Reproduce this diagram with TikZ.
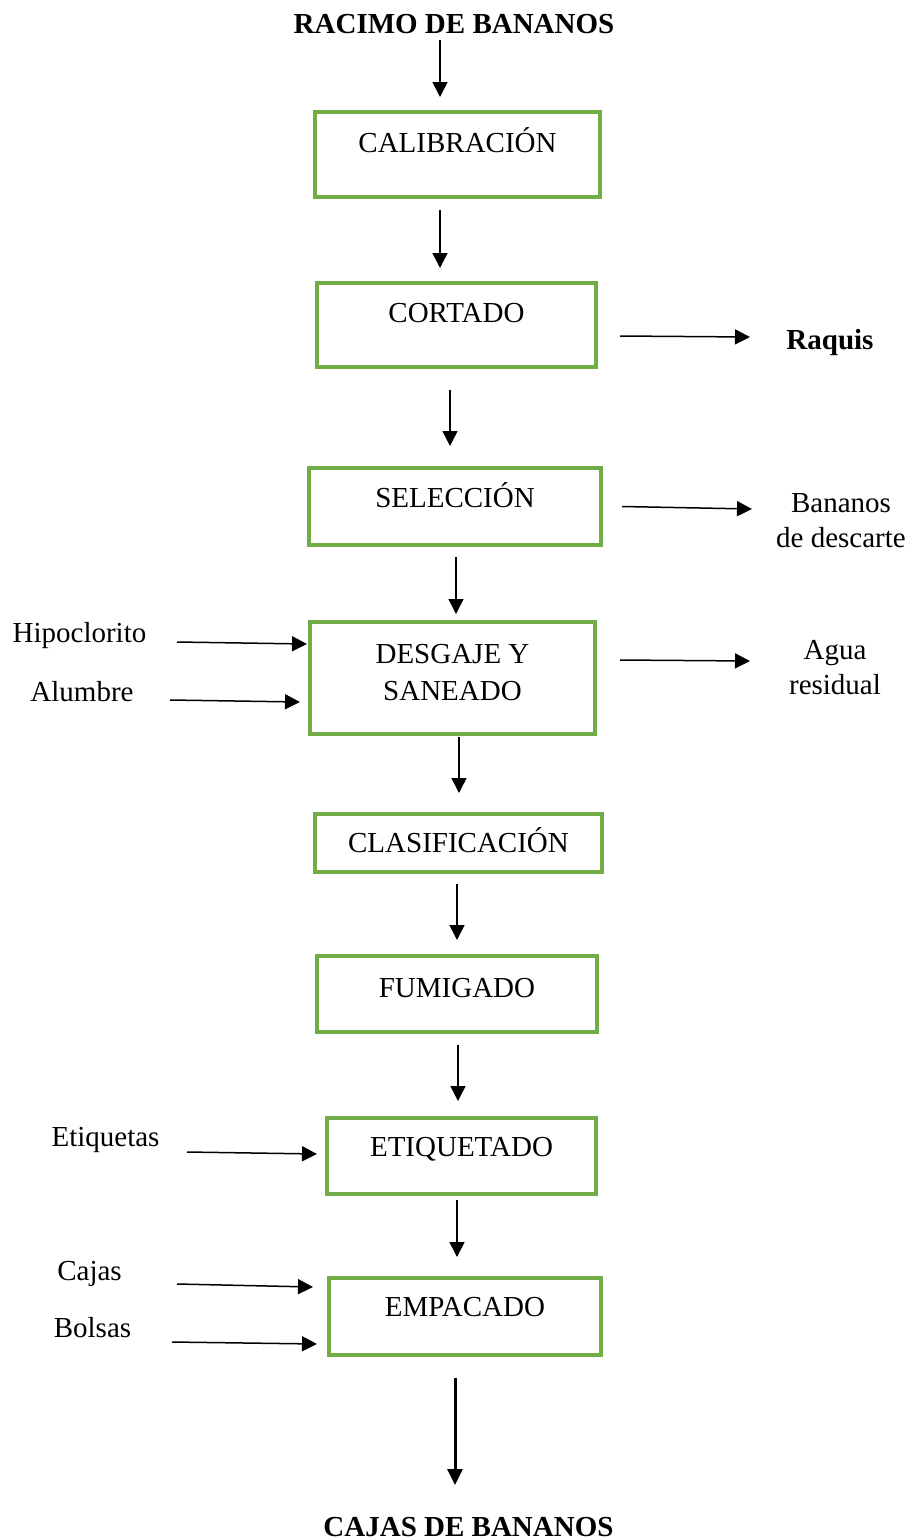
\documentclass[tikz,border=0pt]{standalone}
\usepackage{fontspec}
\setmainfont{Liberation Serif}
\usetikzlibrary{arrows.meta}
\definecolor{boxgreen}{RGB}{112,173,71}
\tikzset{
	stage/.style={draw=boxgreen, line width=4pt, inner sep=0pt, outer sep=0pt, align=center, text height=19pt, font=\fontsize{29}{37}\selectfont},
	lbl/.style={inner sep=0pt, anchor=base, font=\fontsize{29}{35}\selectfont},
	lbl2/.style={inner sep=0pt, align=center, font=\fontsize{29}{35}\selectfont},
	ttl/.style={inner sep=0pt, anchor=base, font=\fontsize{29}{35}\selectfont\bfseries},
	flow/.style={line width=1.5pt, -{Triangle[length=15pt, width=15pt]}},
	bigflow/.style={line width=3pt, -{Triangle[length=16pt, width=15pt]}}
}

\begin{document}
\begin{tikzpicture}[x=1pt, y=-1pt]
		%%%%% START %%%%%
		\useasboundingbox (0, 0) rectangle (912, 1540);
		
		\node[ttl] (racimo) at (454, 33) {RACIMO DE BANANOS};
		
		\node[stage, minimum width=285pt, minimum height=85pt, text depth=23pt] (calib) at (457.5, 154.5) {CALIBRACIÓN};
		\node[stage, minimum width=279pt, minimum height=84pt, text depth=24pt] (cort) at (456.5, 325) {CORTADO};
		\node[stage, minimum width=292pt, minimum height=77pt, text depth=17pt] (sel) at (455, 506.5) {SELECCIÓN};
		\node[stage, minimum width=285pt, minimum height=112pt, text height=56pt, text depth=12pt] (desg) at (452.5, 678) {DESGAJE Y\\SANEADO};
		\node[stage, minimum width=287pt, minimum height=58pt, text depth=0pt] (clas) at (458.5, 843) {CLASIFICACIÓN};
		\node[stage, minimum width=280pt, minimum height=76pt, text depth=12pt] (fum) at (457, 994) {FUMIGADO};
		\node[stage, minimum width=269pt, minimum height=76pt, text depth=18pt] (etiq) at (461.5, 1156) {ETIQUETADO};
		\node[stage, minimum width=272pt, minimum height=77pt, text depth=19pt] (emp) at (465, 1316.5) {EMPACADO};
		
		\node[ttl] (cajasb) at (468.5, 1536) {CAJAS DE BANANOS};
		
		% salidas
		\node[ttl] (raquis) at (830, 349) {Raquis};
		\node[lbl2] (descarte) at (841, 521) {Bananos\\de descarte};
		\node[lbl2] (agua) at (835, 668) {Agua\\residual};
		
		% entradas
		\node[lbl] (hipo) at (79.5, 642) {Hipoclorito};
		\node[lbl] (alumbre) at (82, 701) {Alumbre};
		\node[lbl] (etiquetas) at (105.5, 1146) {Etiquetas};
		\node[lbl] (cajas) at (89.5, 1280) {Cajas};
		\node[lbl] (bolsas) at (92.5, 1337) {Bolsas};
		
		% linea principal
		\draw[flow] ([xshift=-14pt, yshift=-7pt]racimo.base) -- ([xshift=-17.5pt, yshift=15pt]calib.north);
		\draw[flow] ([xshift=-17.5pt, yshift=-13pt]calib.south) -- ([xshift=-16.5pt, yshift=15pt]cort.north);
		\draw[flow] ([xshift=-6.5pt, yshift=-23pt]cort.south) -- ([xshift=-5pt, yshift=22pt]sel.north);
		\draw[flow] ([xshift=1pt, yshift=-12pt]sel.south) -- ([xshift=3.5pt, yshift=8pt]desg.north);
		\draw[flow] ([xshift=6.5pt, yshift=-3pt]desg.south) -- ([xshift=0.5pt, yshift=21pt]clas.north);
		\draw[flow] ([xshift=-1.5pt, yshift=-12pt]clas.south) -- ([xshift=0pt, yshift=16pt]fum.north);
		\draw[flow] ([xshift=1pt, yshift=-13pt]fum.south) -- ([xshift=-3.5pt, yshift=17pt]etiq.north);
		\draw[flow] ([xshift=-4.5pt, yshift=-6pt]etiq.south) -- ([xshift=-8pt, yshift=21pt]emp.north);
		\draw[bigflow] ([xshift=-10pt, yshift=-23pt]emp.south) -- ([xshift=-13.5pt, yshift=51pt]cajasb.base);
		
		% salidas laterales
		\draw[flow] ([xshift=24pt, yshift=-11pt]cort.east) -- ([xshift=-80pt, yshift=12pt]raquis.base);
		\draw[flow] ([xshift=21pt]sel.east) -- ([xshift=-89pt, yshift=12pt]descarte.center);
		\draw[flow] ([xshift=25pt, yshift=18pt]desg.east) -- ([xshift=-85pt, yshift=7pt]agua.center);
		
		% entradas laterales
		\draw[flow] ([xshift=97.5pt]hipo.base) -- ([xshift=-3pt, yshift=34pt]desg.west);
		\draw[flow] ([xshift=88pt, yshift=1pt]alumbre.base) -- ([xshift=-10pt, yshift=-24pt]desg.west);
		\draw[flow] ([xshift=81.5pt, yshift=-6pt]etiquetas.base) -- ([xshift=-10pt, yshift=2pt]etiq.west);
		\draw[flow] ([xshift=87.5pt, yshift=-4pt]cajas.base) -- ([xshift=-16pt, yshift=29.5pt]emp.west);
		\draw[flow] ([xshift=79.5pt, yshift=-5pt]bolsas.base) -- ([xshift=-12pt, yshift=-27.5pt]emp.west);
		%%%%% END %%%%%
\end{tikzpicture}
\end{document}
